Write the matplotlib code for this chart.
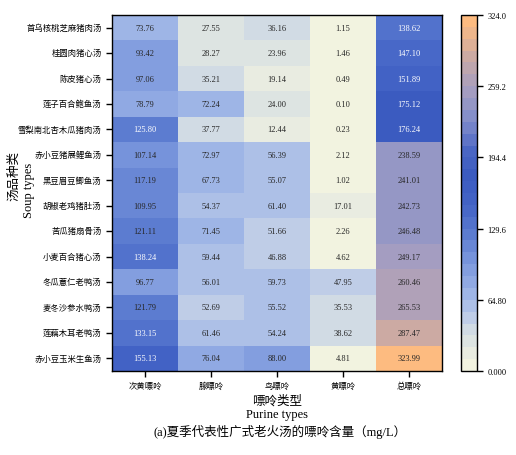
import numpy as np
import matplotlib
matplotlib.use("Agg")
import matplotlib.pyplot as plt
import seaborn as sns
from matplotlib.colors import LinearSegmentedColormap, ListedColormap

soups = ["首乌核桃芝麻猪肉汤", "桂圆肉猪心汤", "陈皮猪心汤", "莲子百合鲍鱼汤",
         "雪梨南北杏木瓜猪肉汤", "赤小豆猪展鲤鱼汤", "黑豆眉豆鲫鱼汤", "胡椒老鸡猪肚汤",
         "苦瓜猪扇骨汤", "小麦百合猪心汤", "冬瓜薏仁老鸭汤", "麦冬沙参水鸭汤",
         "莲藕木耳老鸭汤", "赤小豆玉米生鱼汤"]
purines = ["次黄嘌呤", "腺嘌呤", "鸟嘌呤", "黄嘌呤", "总嘌呤"]

hypoxanthine = [73.76, 93.42, 97.06, 78.79, 125.80, 107.14, 117.19, 109.95, 121.11, 138.24, 96.77, 121.79, 133.15, 155.13]
adenine = [27.55, 28.27, 35.21, 72.24, 37.77, 72.97, 67.73, 54.37, 71.45, 59.44, 56.01, 52.69, 61.46, 76.04]
guanine = [36.16, 23.96, 19.14, 24.00, 12.44, 56.39, 55.07, 61.40, 51.66, 46.88, 59.73, 55.52, 54.24, 88.00]
xanthine = [1.15, 1.46, 0.49, 0.10, 0.23, 2.12, 1.02, 17.01, 2.26, 4.62, 47.95, 35.53, 38.62, 4.81]
total = [138.62, 147.10, 151.89, 175.12, 176.24, 238.59, 241.01, 242.73, 246.48, 249.17, 260.46, 265.53, 287.47, 323.99]

cbar_ticklabels = ["0.000", "64.80", "129.6", "194.4", "259.2", "324.0"]

data = np.array([hypoxanthine, adenine, guanine, xanthine, total]).T
vmax = data.max()
cbar_ticks = np.linspace(0, vmax, 6)

plt.rcParams['font.family'] = ['Liberation Serif', 'Noto Sans CJK SC', 'DejaVu Sans']

stops = [(0.00, "#F2F3E0"), (0.05, "#E3E8E1"), (0.10, "#D2DCE4"), (0.15, "#B8C8E8"),
         (0.20, "#A0B6E6"), (0.25, "#8CA6E2"), (0.30, "#7A96DC"), (0.38, "#5C7CD0"),
         (0.46, "#4464C7"), (0.55, "#3A5BC0"), (0.62, "#4A66C4"), (0.70, "#7A87CA"),
         (0.74, "#8C93C8"), (0.80, "#A69EC0"), (0.89, "#C8A9A6"), (1.00, "#FDBB80")]
base = LinearSegmentedColormap.from_list("pur", stops)
cmap = ListedColormap(base(np.linspace(0, 1, 30)))

fig = plt.figure(figsize=(5.16, 4.56), dpi=100)
ax = fig.add_axes([112/516, 84/456, 330/516, 356/456])
cax = fig.add_axes([461/516, 84/456, 16/516, 356/456])

sns.heatmap(data, ax=ax, cbar_ax=cax, cmap=cmap, vmin=0, vmax=vmax,
            annot=True, fmt=".2f",
            annot_kws={"fontsize": 6, "family": ["Liberation Serif"]},
            xticklabels=purines, yticklabels=soups,
            cbar_kws={"ticks": cbar_ticks})

# text colour: light text on the darkest blue cells
for t in ax.texts:
    v = float(t.get_text())
    t.set_color("white" if 123 < v < 200 else "#262626")

for s in ax.spines.values():
    s.set_visible(True)
    s.set_linewidth(1.0)
    s.set_color("black")

ax.tick_params(axis='both', direction='out', length=4, width=1, colors='black', labelsize=6)
ax.set_yticklabels(soups, rotation=0, fontsize=6)
ax.set_xticklabels(purines, rotation=0, fontsize=6)

ax.set_xlabel("嘌呤类型\nPurine types", fontsize=9, labelpad=3, linespacing=1.15)
ax.set_ylabel("")

fig.text(14/516, 1 - 176/456, "汤品种类", rotation=90, ha='center', va='center', fontsize=9)
fig.text(29/516, 1 - 190/456, "Soup types", rotation=90, ha='center', va='center', fontsize=9)

cax.set_yticks(cbar_ticks)
cax.set_yticklabels(cbar_ticklabels)
cax.tick_params(axis='y', direction='out', length=4, width=1, labelsize=6)
cb = ax.collections[0].colorbar
cb.outline.set_visible(True)
cb.outline.set_linewidth(1.0)
cb.outline.set_edgecolor("black")

fig.text(280/516, 1 - 432/456, "(a)夏季代表性广式老火汤的嘌呤含量（mg/L）",
         ha='center', va='center', fontsize=9)

fig.savefig("out.png", dpi=100)
